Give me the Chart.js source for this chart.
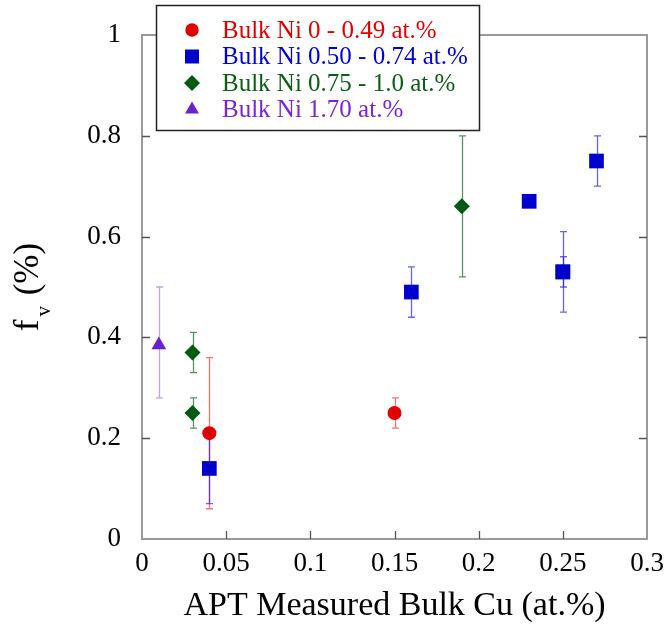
<!DOCTYPE html>
<html>
<head>
<meta charset="utf-8">
<title>Bulk Cu vs fv</title>
<script src="https://cdn.jsdelivr.net/npm/chart.js@4.4.0/dist/chart.umd.min.js"></script>
<style>
  html, body { margin: 0; padding: 0; background: #fff; }
  #wrap { width: 667px; height: 632px; }
</style>
</head>
<body>
<div id="wrap"><canvas id="fv-chart" width="667" height="632"></canvas></div>
<script>
// tick labels
const xTicks = [0, 0.05, 0.1, 0.15, 0.2, 0.25, 0.3];
const yTicks = [0, 0.2, 0.4, 0.6, 0.8, 1];

// series: Bulk Ni 0 - 0.49 at.%
const redX  = [0.04, 0.15];
const redY  = [0.21, 0.25];
const redLo = [0.06, 0.22];
const redHi = [0.36, 0.28];

// series: Bulk Ni 0.50 - 0.74 at.%
const blueX  = [0.04, 0.16, 0.23, 0.25, 0.25, 0.27];
const blueY  = [0.14, 0.49, 0.67, 0.53, 0.53, 0.75];
const blueLo = [0.07, 0.44, null, 0.50, 0.45, 0.70];
const blueHi = [0.20, 0.54, null, 0.56, 0.61, 0.80];

// series: Bulk Ni 0.75 - 1.0 at.%
const greenX  = [0.03, 0.03, 0.19];
const greenY  = [0.37, 0.25, 0.66];
const greenLo = [0.33, 0.22, 0.52];
const greenHi = [0.41, 0.28, 0.80];

// series: Bulk Ni 1.70 at.%
const purpleX  = [0.01];
const purpleY  = [0.385];
const purpleLo = [0.28];
const purpleHi = [0.50];

const SERIF = "'Liberation Serif', 'Times New Roman', serif";

const pts = (xs, ys) => xs.map((x, i) => ({ x, y: ys[i] }));

const datasets = [
  { label: 'Bulk Ni 0 - 0.49 at.%', data: pts(redX, redY), lo: redLo, hi: redHi,
    pointStyle: 'circle', pointRadius: 7, backgroundColor: '#e00000', textColor: '#e00000', errColor: 'rgba(235,20,20,0.6)' },
  { label: 'Bulk Ni 0.50 - 0.74 at.%', data: pts(blueX, blueY), lo: blueLo, hi: blueHi,
    pointStyle: 'rect', pointRadius: 10.4, backgroundColor: '#0000cc', textColor: '#0000d8', errColor: 'rgba(20,20,225,0.65)' },
  { label: 'Bulk Ni 0.75 - 1.0 at.%', data: pts(greenX, greenY), lo: greenLo, hi: greenHi,
    pointStyle: 'rectRot', pointRadius: 8, backgroundColor: '#005a12', textColor: '#0b5e14', errColor: 'rgba(20,100,40,0.7)' },
  { label: 'Bulk Ni 1.70 at.%', data: pts(purpleX, purpleY), lo: purpleLo, hi: purpleHi,
    pointStyle: 'triangle', pointRadius: 8.5, backgroundColor: '#6a1fd2', textColor: '#7a25d6', errColor: 'rgba(140,80,235,0.55)' },
].map((d) => Object.assign(d, { pointBorderWidth: 0, borderColor: d.backgroundColor, pointHoverRadius: d.pointRadius, showLine: false }));

// error bars under the markers
const errorBars = {
  id: 'errorBars',
  beforeDatasetsDraw(chart) {
    const { ctx, scales: { x, y } } = chart;
    ctx.save();
    ctx.lineWidth = 1.3;
    chart.data.datasets.forEach((ds) => {
      ctx.strokeStyle = ds.errColor;
      ds.data.forEach((p, i) => {
        if (ds.lo[i] == null) return;
        const px = Math.round(x.getPixelForValue(p.x)) + 0.5;
        const top = y.getPixelForValue(ds.hi[i]);
        const bot = y.getPixelForValue(ds.lo[i]);
        ctx.beginPath();
        ctx.moveTo(px, top); ctx.lineTo(px, bot);
        ctx.moveTo(px - 3.5, top); ctx.lineTo(px + 3.5, top);
        ctx.moveTo(px - 3.5, bot); ctx.lineTo(px + 3.5, bot);
        ctx.stroke();
      });
    });
    ctx.restore();
  }
};

// box frame with inward ticks, y title, legend box
const frame = {
  id: 'frame',
  afterDraw(chart) {
    const { ctx, chartArea: a, scales: { x, y } } = chart;
    ctx.save();
    ctx.strokeStyle = '#9a9a9a';
    ctx.lineWidth = 2;
    ctx.strokeRect(a.left, a.top, a.right - a.left, a.bottom - a.top);

    ctx.strokeStyle = '#555';
    ctx.lineWidth = 1.3;
    ctx.beginPath();
    xTicks.slice(1, -1).forEach((v) => {
      const px = Math.round(x.getPixelForValue(v)) + 0.5;
      ctx.moveTo(px, a.bottom); ctx.lineTo(px, a.bottom - 8);
    });
    yTicks.slice(1, -1).forEach((v) => {
      const py = Math.round(y.getPixelForValue(v)) + 0.5;
      ctx.moveTo(a.left, py); ctx.lineTo(a.left + 8, py);
      ctx.moveTo(a.right, py); ctx.lineTo(a.right - 8, py);
    });
    ctx.stroke();

    // y title: f subscript v (%)
    ctx.translate(38, 287);
    ctx.rotate(-Math.PI / 2);
    ctx.fillStyle = '#000';
    ctx.textBaseline = 'alphabetic';
    ctx.font = `35px ${SERIF}`;
    const wf = ctx.measureText('f').width;
    const wp = ctx.measureText(' (%)').width;
    ctx.font = `21px ${SERIF}`;
    const wv = ctx.measureText('v').width;
    const sx = -(wf + wv + wp + 5) / 2;
    ctx.font = `35px ${SERIF}`;
    ctx.fillText('f', sx, 0);
    ctx.font = `21px ${SERIF}`;
    ctx.fillText('v', sx + wf + 3, 12);
    ctx.font = `35px ${SERIF}`;
    ctx.fillText(' (%)', sx + wf + wv + 5, 0);
    ctx.setTransform(1, 0, 0, 1, 0, 0);

    // legend
    ctx.fillStyle = '#fff';
    ctx.fillRect(156.5, 5.5, 323, 125);
    ctx.strokeStyle = '#222';
    ctx.lineWidth = 1.5;
    ctx.strokeRect(156.5, 5.5, 323, 125);
    const rows = [30, 56.5, 83, 109.5];
    const legendR = [6.7, 9.9, 8, 8];
    chart.data.datasets.forEach((ds, i) => {
      ctx.fillStyle = ds.backgroundColor;
      Chart.helpers.drawPoint(ctx, { pointStyle: ds.pointStyle, radius: legendR[i], rotation: 0, borderWidth: 0 }, 192, rows[i]);
      ctx.fillStyle = ds.textColor;
      ctx.font = `25px ${SERIF}`;
      ctx.textBaseline = 'middle';
      ctx.textAlign = 'left';
      ctx.fillText(ds.label, 222, rows[i] + 1);
    });
    ctx.restore();
  }
};

new Chart(document.getElementById('fv-chart'), {
  type: 'scatter',
  data: { datasets },
  options: {
    responsive: false,
    animation: false,
    events: [],
    layout: { padding: { top: 35, right: 20, left: 0, bottom: 0 } },
    plugins: { legend: { display: false }, tooltip: { enabled: false } },
    scales: {
      x: {
        type: 'linear', min: 0, max: 0.3,
        afterBuildTicks: (s) => { s.ticks = xTicks.map((v) => ({ value: v })); },
        afterFit: (s) => { s.height = 93; },
        grid: { display: false },
        border: { display: false },
        ticks: { padding: 1, color: '#000', font: { family: SERIF, size: 27 }, callback: (v) => String(+v.toFixed(2)) },
        title: { display: true, text: 'APT Measured Bulk Cu (at.%)', color: '#000', font: { family: SERIF, size: 34 }, padding: { top: 0, bottom: 6 } },
      },
      y: {
        type: 'linear', min: 0, max: 1,
        afterBuildTicks: (s) => { s.ticks = yTicks.map((v) => ({ value: v })); },
        afterFit: (s) => { s.width = 142; },
        grid: { display: false },
        border: { display: false },
        ticks: { padding: 13, color: '#000', font: { family: SERIF, size: 27 }, callback: (v) => String(+v.toFixed(1)) },
      },
    },
  },
  plugins: [errorBars, frame],
});
</script>
</body>
</html>
